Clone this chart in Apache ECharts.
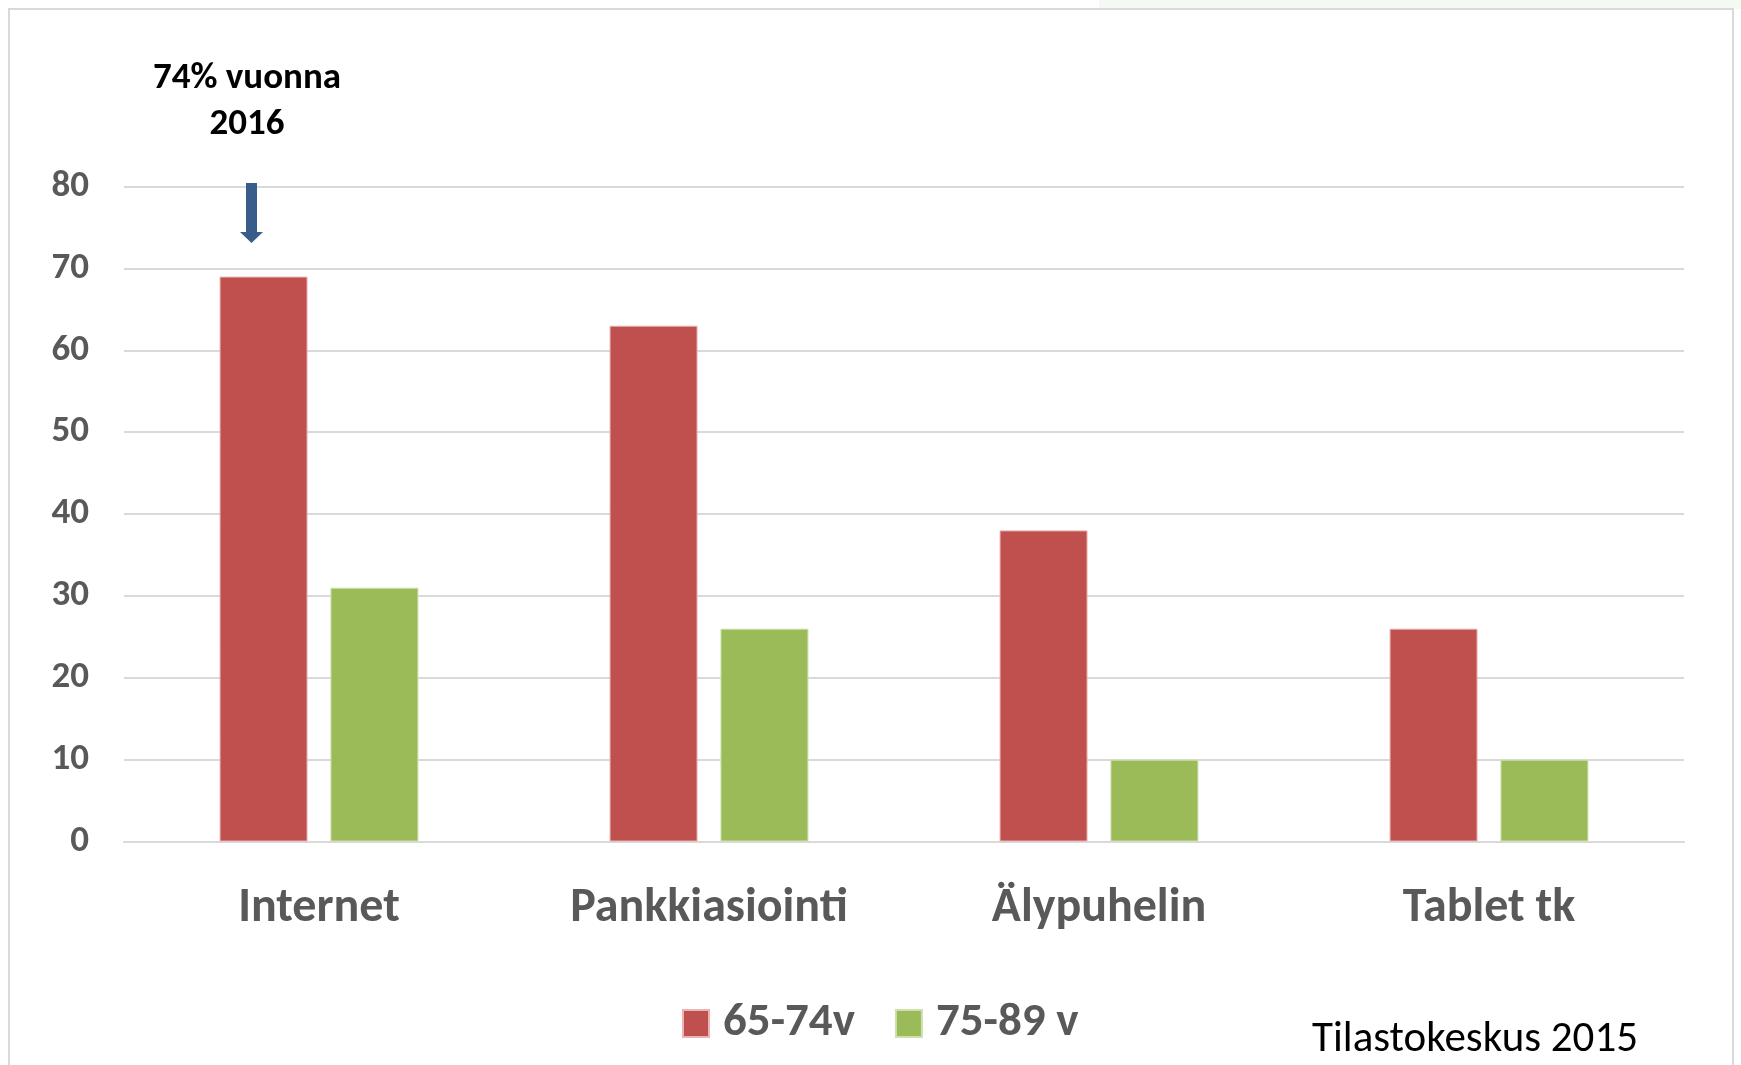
<!DOCTYPE html>
<html>
<head>
<meta charset="utf-8">
<script src="https://cdn.jsdelivr.net/npm/echarts@6/dist/echarts.min.js"></script>
<style>
  html, body { margin: 0; padding: 0; background: #fff; }
  #chart { width: 1741px; height: 1065px; }
</style>
</head>
<body>
<div id="chart"></div>
<script>
const categories = ['Internet', 'Pankkiasiointi', 'Älypuhelin', 'Tablet tk'];
const seriesNames = ['65-74v', '75-89 v'];
const values6574 = [69, 63, 38, 26];
const values7589 = [31, 26, 10, 10];
const yTicks = [0, 10, 20, 30, 40, 50, 60, 70, 80];

const FONT = 'Carlito, Lato, sans-serif';
const chart = echarts.init(document.getElementById('chart'));

chart.setOption({
  backgroundColor: '#fff',
  animation: false,
  grid: { left: 124, right: 57, top: 186.5, bottom: 223.5 },
  legend: {
    left: 677,
    top: 995,
    itemWidth: 26,
    itemHeight: 27,
    itemGap: 40,
    icon: 'rect',
    data: seriesNames,
    textStyle: {
      fontFamily: FONT, fontSize: 47, fontWeight: 'bold', color: '#595959',
      padding: [0, 0, 0, 9]
    }
  },
  xAxis: {
    type: 'category',
    data: categories,
    axisTick: { show: false },
    axisLine: { lineStyle: { color: '#d9d9d9', width: 2 } },
    axisLabel: {
      fontFamily: FONT, fontSize: 48, fontWeight: 'bold', color: '#595959',
      margin: 43, lineHeight: 48
    }
  },
  yAxis: {
    type: 'value',
    min: yTicks[0],
    max: yTicks[yTicks.length - 1],
    interval: 10,
    axisLine: { show: false },
    axisTick: { show: false },
    splitLine: { lineStyle: { color: '#d9d9d9', width: 2 } },
    axisLabel: {
      fontFamily: FONT, fontSize: 37, fontWeight: 'bold', color: '#595959', margin: 35
    }
  },
  series: [
    {
      name: seriesNames[0], type: 'bar', data: values6574,
      barWidth: 88, barGap: '26%',
      itemStyle: { color: '#C0504D', borderColor: '#e8b5b4', borderWidth: 1 }
    },
    {
      name: seriesNames[1], type: 'bar', data: values7589,
      barWidth: 88, barGap: '26%',
      itemStyle: { color: '#9BBB59', borderColor: '#cfe0b0', borderWidth: 1 }
    }
  ],
  graphic: [
    { type: 'rect', z: 100, shape: { x: 1099, y: 0, width: 642, height: 9 }, style: { fill: '#f4faf2' }, silent: true },
    { type: 'polyline', z: 100, shape: { points: [[9, 1065], [9, 9], [1733, 9], [1733, 1065]] },
      style: { stroke: '#d9d9d9', lineWidth: 2, fill: null }, silent: true },
    { type: 'text', z: 100, x: 247, y: 102,
      style: { text: '74% vuonna\n2016', font: 'bold 37px ' + FONT, fill: '#000',
        align: 'center', verticalAlign: 'middle', lineHeight: 46 } },
    { type: 'polygon', z: 100,
      shape: { points: [[246, 183], [257, 183], [257, 232], [263, 232], [251.5, 243], [240, 232], [246, 232]] },
      style: { fill: '#385D8A' }, silent: true },
    { type: 'text', z: 100, x: 1312, y: 1040,
      style: { text: 'Tilastokeskus 2015', font: '43px ' + FONT, fill: '#000',
        verticalAlign: 'middle' } }
  ]
});
</script>
</body>
</html>
